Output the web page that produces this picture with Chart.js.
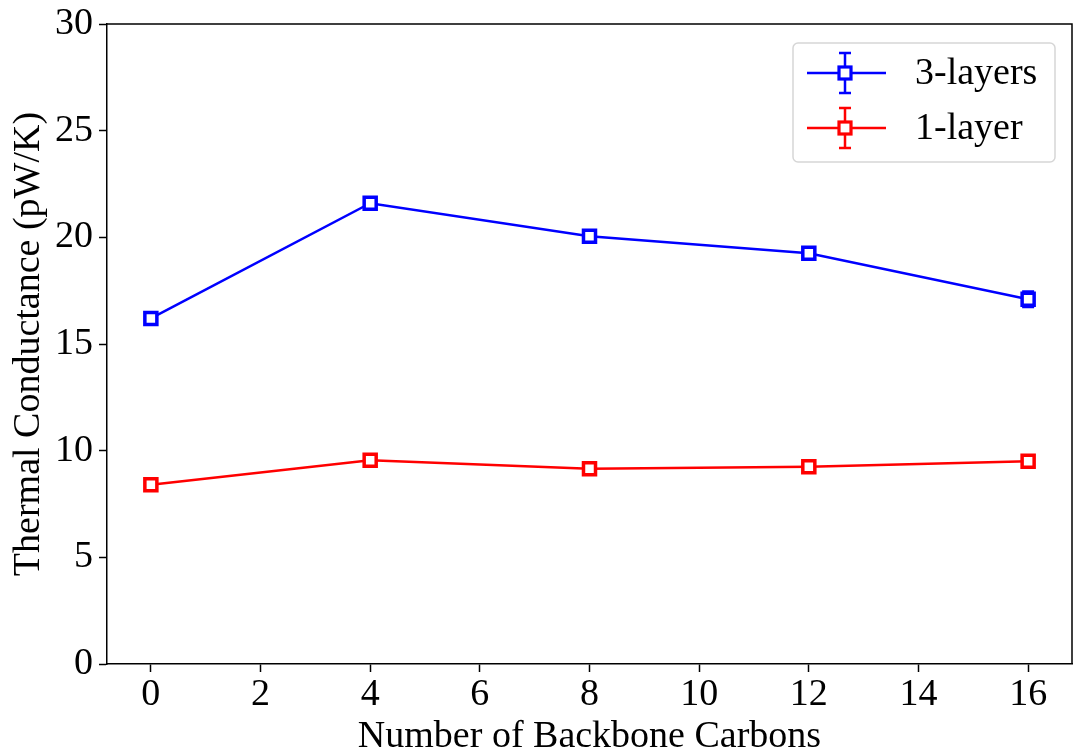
<!DOCTYPE html>
<html>
<head>
<meta charset="utf-8">
<script src="https://cdn.jsdelivr.net/npm/chart.js@4"></script>
<style>
  html, body { margin: 0; padding: 0; background: #fff; }
  #wrap { width: 1073px; height: 751px; }
</style>
</head>
<body>
<div id="wrap"><canvas id="chart" width="1073" height="751"></canvas></div>
<script>
// data
const carbons = [0, 4, 8, 12, 16];
const threeLayers = [16.2, 21.6, 20.05, 19.25, 17.1];
const threeLayersErr = [0.12, 0.1, 0.1, 0.1, 0.36];
const oneLayer = [8.4, 9.55, 9.15, 9.25, 9.5];
const oneLayerErr = [0.08, 0.08, 0.08, 0.08, 0.08];
const xTicks = [0, 2, 4, 6, 8, 10, 12, 14, 16];
const yTicks = [0, 5, 10, 15, 20, 25, 30];

const FONT = '"Liberation Serif", "Times New Roman", serif';

// error bars (under the markers), frame and the framed legend
const errorBars = {
    id: 'errorBars',
    beforeDatasetsDraw(chart) {
        const ctx = chart.ctx;
        const xs = chart.scales.x, ys = chart.scales.y;
        chart.data.datasets.forEach(ds => {
            ctx.save();
            ctx.strokeStyle = ds.borderColor;
            ctx.lineWidth = 2.5;
            ds.data.forEach((p, i) => {
                const e = ds.errors[i];
                const px = xs.getPixelForValue(p.x);
                const top = ys.getPixelForValue(p.y + e);
                const bot = ys.getPixelForValue(p.y - e);
                ctx.beginPath();
                ctx.moveTo(px, top); ctx.lineTo(px, bot);
                ctx.moveTo(px - 6, top); ctx.lineTo(px + 6, top);
                ctx.moveTo(px - 6, bot); ctx.lineTo(px + 6, bot);
                ctx.stroke();
            });
            ctx.restore();
        });
    },
    afterDraw(chart) {
        const ctx = chart.ctx;
        const a = chart.chartArea;
        ctx.save();
        // top and right spines
        ctx.strokeStyle = '#000';
        ctx.lineWidth = 1.5;
        ctx.beginPath();
        ctx.moveTo(a.left, a.top); ctx.lineTo(a.right, a.top); ctx.lineTo(a.right, a.bottom);
        ctx.stroke();

        const bx = a.right - 279, by = a.top + 19, bw = 262, bh = 119;
        ctx.fillStyle = 'rgba(255,255,255,0.8)';
        ctx.strokeStyle = '#d6d6d6';
        ctx.lineWidth = 1.5;
        ctx.beginPath();
        ctx.roundRect(bx, by, bw, bh, 5);
        ctx.fill();
        ctx.stroke();
        chart.data.datasets.forEach((ds, i) => {
            const cy = by + 30 + i * 55;
            const cx = bx + 52;
            ctx.strokeStyle = ds.borderColor;
            ctx.lineWidth = 2.5;
            ctx.beginPath();
            ctx.moveTo(bx + 14, cy); ctx.lineTo(bx + 93, cy);
            ctx.moveTo(cx, cy - 20); ctx.lineTo(cx, cy + 20);
            ctx.moveTo(cx - 6, cy - 20); ctx.lineTo(cx + 6, cy - 20);
            ctx.moveTo(cx - 6, cy + 20); ctx.lineTo(cx + 6, cy + 20);
            ctx.stroke();
            ctx.fillStyle = '#fff';
            ctx.lineWidth = 3.2;
            ctx.fillRect(cx - 6, cy - 6, 12, 12);
            ctx.strokeRect(cx - 6, cy - 6, 12, 12);
            ctx.fillStyle = '#000';
            ctx.font = '38px ' + FONT;
            ctx.textBaseline = 'middle';
            ctx.fillText(ds.label, bx + 122, cy + 1);
        });
        ctx.restore();
    }
};

const makeSet = (label, ys, errs, color) => ({
    label: label,
    data: carbons.map((c, i) => ({ x: c, y: ys[i] })),
    errors: errs,
    borderColor: color,
    backgroundColor: '#fff',
    borderWidth: 2.5,
    pointStyle: 'rect',
    pointRadius: 8.5,
    pointBorderWidth: 3.5,
    pointBackgroundColor: '#fff',
    pointBorderColor: color,
    tension: 0
});

new Chart(document.getElementById('chart'), {
    type: 'line',
    data: {
        datasets: [
            makeSet('3-layers', threeLayers, threeLayersErr, '#0000ff'),
            makeSet('1-layer', oneLayer, oneLayerErr, '#ff0000')
        ]
    },
    plugins: [errorBars],
    options: {
        responsive: false,
        animation: false,
        layout: { autoPadding: false, padding: { top: 24, right: 1, left: 0, bottom: 0 } },
        plugins: { legend: { display: false }, tooltip: { enabled: false } },
        scales: {
            x: {
                type: 'linear',
                min: -0.8,
                max: 16.8,
                afterBuildTicks: s => { s.ticks = xTicks.map(v => ({ value: v })); },
                afterFit: s => { s.height = 87; s.paddingLeft = 0; s.paddingRight = 0; },
                grid: { display: true, drawOnChartArea: false, color: '#000', tickLength: 8, tickWidth: 1.5 },
                border: { display: true, color: '#000', width: 1.5 },
                ticks: { color: '#000', font: { family: FONT, size: 38 }, padding: 0, maxRotation: 0 },
                title: { display: true, text: 'Number of Backbone Carbons', color: '#000',
                         font: { family: FONT, size: 38 }, padding: { top: 0, bottom: -9 } }
            },
            y: {
                min: 0,
                max: 30,
                afterBuildTicks: s => { s.ticks = yTicks.map(v => ({ value: v })); },
                afterFit: s => { s.width = 107; s.paddingTop = 0; s.paddingBottom = 0; },
                grid: { display: true, drawOnChartArea: false, color: '#000', tickLength: 8, tickWidth: 1.5 },
                border: { display: true, color: '#000', width: 1.5 },
                ticks: { color: '#000', font: { family: FONT, size: 38 }, padding: 6 },
                title: { display: true, text: 'Thermal Conductance (pW/K)', color: '#000',
                         font: { family: FONT, size: 38 }, padding: { top: 6, bottom: 0 } }
            }
        }
    }
});
</script>
</body>
</html>
